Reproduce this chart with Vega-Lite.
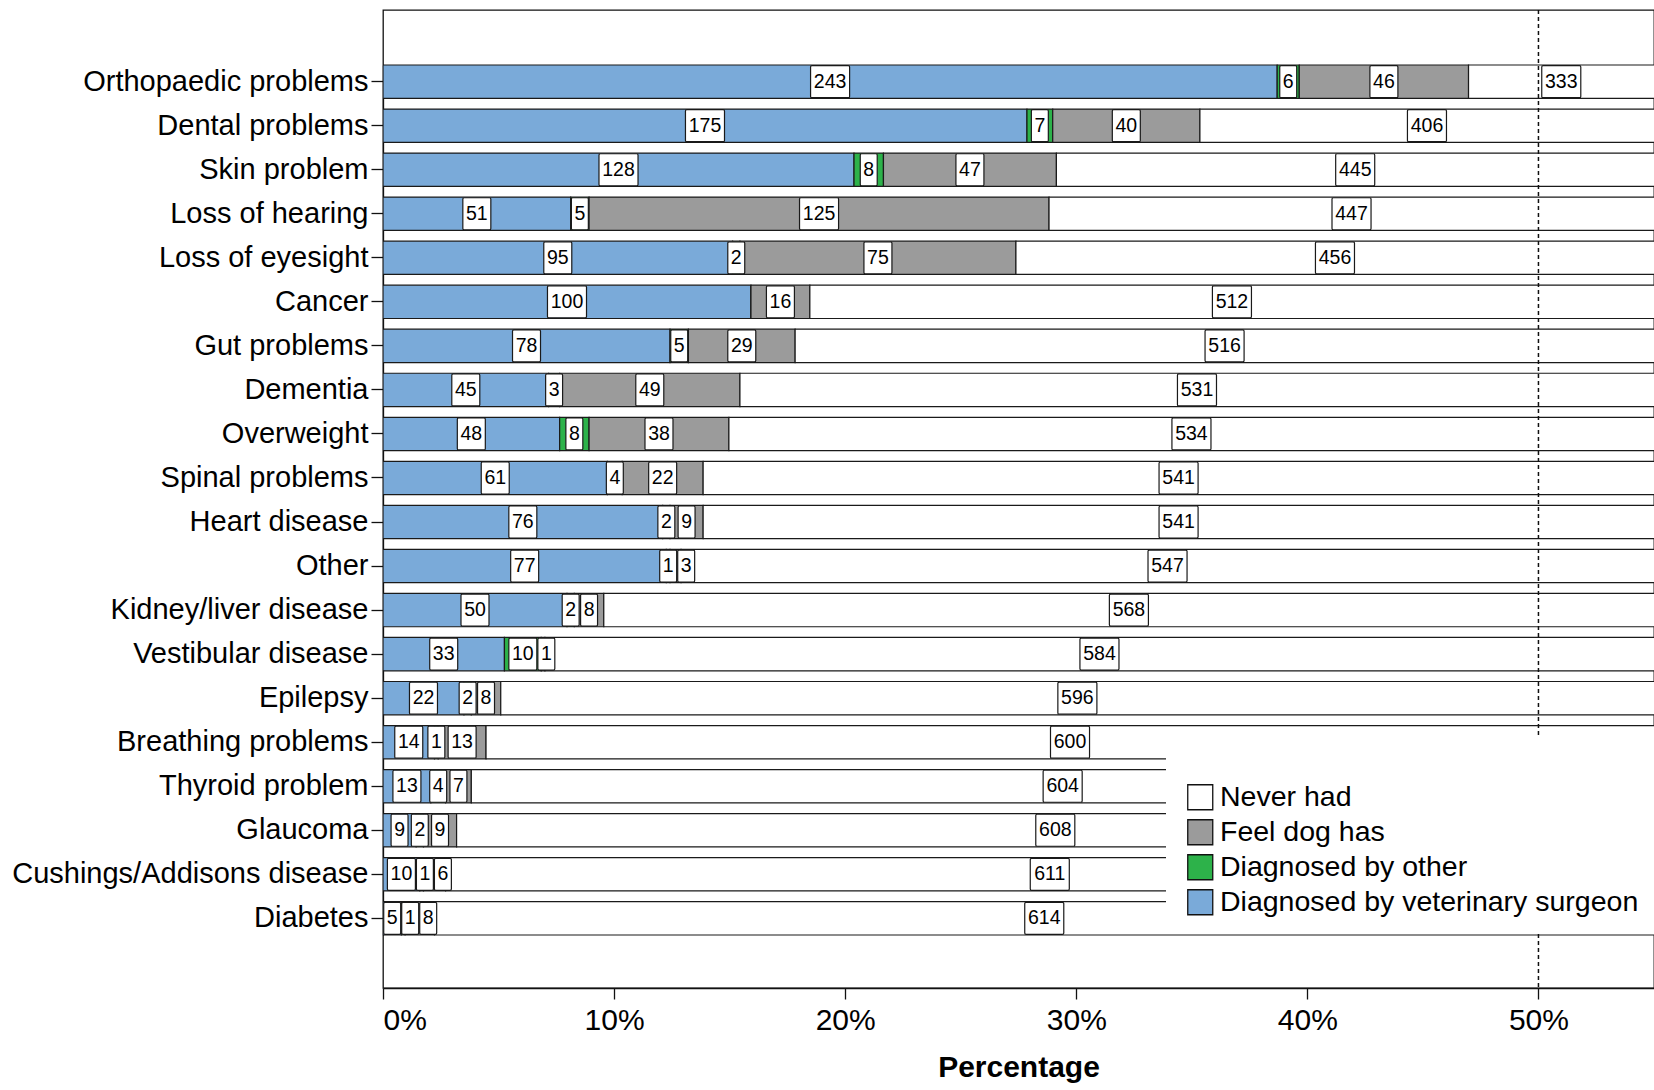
{
  "$schema": "https://vega.github.io/schema/vega-lite/v6.json",
  "width": 1271,
  "height": 978,
  "autosize": {"type": "none"},
  "padding": {"left": 383, "top": 10, "right": 0, "bottom": 102},
  "background": "white",
  "config": {
    "font": "Liberation Sans",
    "view": {"stroke": "#111111", "strokeWidth": 1.3},
    "axis": {"domainColor": "#111111", "tickColor": "#111111", "labelColor": "black", "titleColor": "black", "grid": false, "domainWidth": 1.3, "tickWidth": 1.3}
  },
  "data": {"values": [
    {"condition": "Orthopaedic problems", "status": "Diagnosed by veterinary surgeon", "ord": 1, "count": 243},
    {"condition": "Orthopaedic problems", "status": "Diagnosed by other", "ord": 2, "count": 6},
    {"condition": "Orthopaedic problems", "status": "Feel dog has", "ord": 3, "count": 46},
    {"condition": "Orthopaedic problems", "status": "Never had", "ord": 4, "count": 333},
    {"condition": "Dental problems", "status": "Diagnosed by veterinary surgeon", "ord": 1, "count": 175},
    {"condition": "Dental problems", "status": "Diagnosed by other", "ord": 2, "count": 7},
    {"condition": "Dental problems", "status": "Feel dog has", "ord": 3, "count": 40},
    {"condition": "Dental problems", "status": "Never had", "ord": 4, "count": 406},
    {"condition": "Skin problem", "status": "Diagnosed by veterinary surgeon", "ord": 1, "count": 128},
    {"condition": "Skin problem", "status": "Diagnosed by other", "ord": 2, "count": 8},
    {"condition": "Skin problem", "status": "Feel dog has", "ord": 3, "count": 47},
    {"condition": "Skin problem", "status": "Never had", "ord": 4, "count": 445},
    {"condition": "Loss of hearing", "status": "Diagnosed by veterinary surgeon", "ord": 1, "count": 51},
    {"condition": "Loss of hearing", "status": "Diagnosed by other", "ord": 2, "count": 5},
    {"condition": "Loss of hearing", "status": "Feel dog has", "ord": 3, "count": 125},
    {"condition": "Loss of hearing", "status": "Never had", "ord": 4, "count": 447},
    {"condition": "Loss of eyesight", "status": "Diagnosed by veterinary surgeon", "ord": 1, "count": 95},
    {"condition": "Loss of eyesight", "status": "Diagnosed by other", "ord": 2, "count": 2},
    {"condition": "Loss of eyesight", "status": "Feel dog has", "ord": 3, "count": 75},
    {"condition": "Loss of eyesight", "status": "Never had", "ord": 4, "count": 456},
    {"condition": "Cancer", "status": "Diagnosed by veterinary surgeon", "ord": 1, "count": 100},
    {"condition": "Cancer", "status": "Diagnosed by other", "ord": 2, "count": 0},
    {"condition": "Cancer", "status": "Feel dog has", "ord": 3, "count": 16},
    {"condition": "Cancer", "status": "Never had", "ord": 4, "count": 512},
    {"condition": "Gut problems", "status": "Diagnosed by veterinary surgeon", "ord": 1, "count": 78},
    {"condition": "Gut problems", "status": "Diagnosed by other", "ord": 2, "count": 5},
    {"condition": "Gut problems", "status": "Feel dog has", "ord": 3, "count": 29},
    {"condition": "Gut problems", "status": "Never had", "ord": 4, "count": 516},
    {"condition": "Dementia", "status": "Diagnosed by veterinary surgeon", "ord": 1, "count": 45},
    {"condition": "Dementia", "status": "Diagnosed by other", "ord": 2, "count": 3},
    {"condition": "Dementia", "status": "Feel dog has", "ord": 3, "count": 49},
    {"condition": "Dementia", "status": "Never had", "ord": 4, "count": 531},
    {"condition": "Overweight", "status": "Diagnosed by veterinary surgeon", "ord": 1, "count": 48},
    {"condition": "Overweight", "status": "Diagnosed by other", "ord": 2, "count": 8},
    {"condition": "Overweight", "status": "Feel dog has", "ord": 3, "count": 38},
    {"condition": "Overweight", "status": "Never had", "ord": 4, "count": 534},
    {"condition": "Spinal problems", "status": "Diagnosed by veterinary surgeon", "ord": 1, "count": 61},
    {"condition": "Spinal problems", "status": "Diagnosed by other", "ord": 2, "count": 4},
    {"condition": "Spinal problems", "status": "Feel dog has", "ord": 3, "count": 22},
    {"condition": "Spinal problems", "status": "Never had", "ord": 4, "count": 541},
    {"condition": "Heart disease", "status": "Diagnosed by veterinary surgeon", "ord": 1, "count": 76},
    {"condition": "Heart disease", "status": "Diagnosed by other", "ord": 2, "count": 2},
    {"condition": "Heart disease", "status": "Feel dog has", "ord": 3, "count": 9},
    {"condition": "Heart disease", "status": "Never had", "ord": 4, "count": 541},
    {"condition": "Other", "status": "Diagnosed by veterinary surgeon", "ord": 1, "count": 77},
    {"condition": "Other", "status": "Diagnosed by other", "ord": 2, "count": 1},
    {"condition": "Other", "status": "Feel dog has", "ord": 3, "count": 3},
    {"condition": "Other", "status": "Never had", "ord": 4, "count": 547},
    {"condition": "Kidney/liver disease", "status": "Diagnosed by veterinary surgeon", "ord": 1, "count": 50},
    {"condition": "Kidney/liver disease", "status": "Diagnosed by other", "ord": 2, "count": 2},
    {"condition": "Kidney/liver disease", "status": "Feel dog has", "ord": 3, "count": 8},
    {"condition": "Kidney/liver disease", "status": "Never had", "ord": 4, "count": 568},
    {"condition": "Vestibular disease", "status": "Diagnosed by veterinary surgeon", "ord": 1, "count": 33},
    {"condition": "Vestibular disease", "status": "Diagnosed by other", "ord": 2, "count": 10},
    {"condition": "Vestibular disease", "status": "Feel dog has", "ord": 3, "count": 1},
    {"condition": "Vestibular disease", "status": "Never had", "ord": 4, "count": 584},
    {"condition": "Epilepsy", "status": "Diagnosed by veterinary surgeon", "ord": 1, "count": 22},
    {"condition": "Epilepsy", "status": "Diagnosed by other", "ord": 2, "count": 2},
    {"condition": "Epilepsy", "status": "Feel dog has", "ord": 3, "count": 8},
    {"condition": "Epilepsy", "status": "Never had", "ord": 4, "count": 596},
    {"condition": "Breathing problems", "status": "Diagnosed by veterinary surgeon", "ord": 1, "count": 14},
    {"condition": "Breathing problems", "status": "Diagnosed by other", "ord": 2, "count": 1},
    {"condition": "Breathing problems", "status": "Feel dog has", "ord": 3, "count": 13},
    {"condition": "Breathing problems", "status": "Never had", "ord": 4, "count": 600},
    {"condition": "Thyroid problem", "status": "Diagnosed by veterinary surgeon", "ord": 1, "count": 13},
    {"condition": "Thyroid problem", "status": "Diagnosed by other", "ord": 2, "count": 4},
    {"condition": "Thyroid problem", "status": "Feel dog has", "ord": 3, "count": 7},
    {"condition": "Thyroid problem", "status": "Never had", "ord": 4, "count": 604},
    {"condition": "Glaucoma", "status": "Diagnosed by veterinary surgeon", "ord": 1, "count": 9},
    {"condition": "Glaucoma", "status": "Diagnosed by other", "ord": 2, "count": 2},
    {"condition": "Glaucoma", "status": "Feel dog has", "ord": 3, "count": 9},
    {"condition": "Glaucoma", "status": "Never had", "ord": 4, "count": 608},
    {"condition": "Cushings/Addisons disease", "status": "Diagnosed by veterinary surgeon", "ord": 1, "count": 10},
    {"condition": "Cushings/Addisons disease", "status": "Diagnosed by other", "ord": 2, "count": 1},
    {"condition": "Cushings/Addisons disease", "status": "Feel dog has", "ord": 3, "count": 6},
    {"condition": "Cushings/Addisons disease", "status": "Never had", "ord": 4, "count": 611},
    {"condition": "Diabetes", "status": "Diagnosed by veterinary surgeon", "ord": 1, "count": 5},
    {"condition": "Diabetes", "status": "Diagnosed by other", "ord": 2, "count": 1},
    {"condition": "Diabetes", "status": "Feel dog has", "ord": 3, "count": 8},
    {"condition": "Diabetes", "status": "Never had", "ord": 4, "count": 614}
  ]},
  "transform": [
    {"stack": "count", "groupby": ["condition"], "sort": [{"field": "ord", "order": "ascending"}], "offset": "normalize", "as": ["s0", "s1"]},
    {"calculate": "(datum.s0 + min(datum.s1, 0.55)) / 2", "as": "mid"},
    {"calculate": "length(toString(datum.count))", "as": "nd"}
  ],
  "layer": [
    {
      "mark": {"type": "bar", "clip": true, "stroke": "#1a1a1a", "strokeWidth": 1.2},
      "encoding": {
        "y": {"field": "condition", "type": "nominal", "title": null,
              "sort": ["Orthopaedic problems", "Dental problems", "Skin problem", "Loss of hearing", "Loss of eyesight", "Cancer", "Gut problems", "Dementia", "Overweight", "Spinal problems", "Heart disease", "Other", "Kidney/liver disease", "Vestibular disease", "Epilepsy", "Breathing problems", "Thyroid problem", "Glaucoma", "Cushings/Addisons disease", "Diabetes"],
              "scale": {"paddingInner": 0.243, "paddingOuter": 0, "range": [55, 925]},
              "axis": {"labelFontSize": 29, "labelPadding": 3, "tickSize": 12, "labelLimit": 600}},
        "x": {"field": "s0", "type": "quantitative", "title": "Percentage",
              "scale": {"domain": [0, 0.55], "nice": false, "zero": true},
              "axis": {"values": [0, 0.1, 0.2, 0.3, 0.4, 0.5], "format": ".0%", "labelFontSize": 30, "titleFontSize": 30, "titleFontWeight": "bold", "tickSize": 11, "labelPadding": 6, "titlePadding": 17}},
        "x2": {"field": "s1"},
        "color": {"field": "status", "type": "nominal",
                  "scale": {"domain": ["Never had", "Feel dog has", "Diagnosed by other", "Diagnosed by veterinary surgeon"], "range": ["#ffffff", "#9b9b9b", "#2db24a", "#7aaad9"]},
                  "legend": {"orient": "none", "legendX": 783, "legendY": 726,
                             "title": " ",
                             "titleFontSize": 24, "titlePadding": 8, "titleLimit": 3000,
                             "padding": 15, "fillColor": "white", "symbolType": "square", "symbolSize": 625,
                             "symbolStrokeColor": "#111111", "symbolStrokeWidth": 1.3, "symbolOffset": 5,
                             "labelFontSize": 28.5, "labelColor": "black", "labelLimit": 1000, "labelOffset": 5.5,
                             "rowPadding": 4.0, "zindex": 2}}
      }
    },
    {
      "transform": [{"filter": "datum.condition === 'Orthopaedic problems' && datum.ord === 1"}],
      "mark": {"type": "rule", "strokeDash": [4, 3], "color": "#111111", "strokeWidth": 1.5},
      "encoding": {"x": {"datum": 0.5}}
    },
    {
      "transform": [
        {"filter": "datum.count > 0"},
        {"calculate": "datum.nd == 1 ? 8.5 : (datum.nd == 2 ? 14 : 19.5)", "as": "hw"},
        {"window": [{"op": "lag", "field": "mid", "as": "pm"}, {"op": "lag", "field": "hw", "as": "ph"}], "groupby": ["condition"], "sort": [{"field": "ord", "order": "ascending"}]},
        {"calculate": "datum.pm == null ? datum.mid : max(datum.mid, datum.pm + (datum.ph + datum.hw + 1) * 0.55 / 1271)", "as": "p1"},
        {"window": [{"op": "lag", "field": "p1", "as": "pp"}], "groupby": ["condition"], "sort": [{"field": "ord", "order": "ascending"}]},
        {"calculate": "datum.pp == null ? datum.p1 : max(datum.p1, datum.pp + (datum.ph + datum.hw + 1) * 0.55 / 1271)", "as": "pos"}
      ],
      "layer": [
        {
          "mark": {"type": "point", "filled": true, "fill": "white", "stroke": "#1a1a1a", "strokeWidth": 1.2, "size": 1024, "opacity": 1},
          "encoding": {
            "y": {"field": "condition", "type": "nominal", "title": null,
                  "sort": ["Orthopaedic problems", "Dental problems", "Skin problem", "Loss of hearing", "Loss of eyesight", "Cancer", "Gut problems", "Dementia", "Overweight", "Spinal problems", "Heart disease", "Other", "Kidney/liver disease", "Vestibular disease", "Epilepsy", "Breathing problems", "Thyroid problem", "Glaucoma", "Cushings/Addisons disease", "Diabetes"]},
            "x": {"field": "pos", "type": "quantitative", "title": "Percentage"},
            "shape": {"field": "nd", "type": "nominal", "legend": null,
                      "scale": {"domain": [1, 2, 3], "range": [
                        "M-0.45,-1H0.45Q0.53,-1 0.53,-0.92V0.92Q0.53,1 0.45,1H-0.45Q-0.53,1 -0.53,0.92V-0.92Q-0.53,-1 -0.45,-1Z",
                        "M-0.795,-1H0.795Q0.875,-1 0.875,-0.92V0.92Q0.875,1 0.795,1H-0.795Q-0.875,1 -0.875,0.92V-0.92Q-0.875,-1 -0.795,-1Z",
                        "M-1.14,-1H1.14Q1.22,-1 1.22,-0.92V0.92Q1.22,1 1.14,1H-1.14Q-1.22,1 -1.22,0.92V-0.92Q-1.22,-1 -1.14,-1Z"]}}
          }
        },
        {
          "mark": {"type": "text", "fontSize": 19.5, "color": "black", "align": "center", "baseline": "middle"},
          "encoding": {
            "y": {"field": "condition", "type": "nominal", "title": null,
                  "sort": ["Orthopaedic problems", "Dental problems", "Skin problem", "Loss of hearing", "Loss of eyesight", "Cancer", "Gut problems", "Dementia", "Overweight", "Spinal problems", "Heart disease", "Other", "Kidney/liver disease", "Vestibular disease", "Epilepsy", "Breathing problems", "Thyroid problem", "Glaucoma", "Cushings/Addisons disease", "Diabetes"]},
            "x": {"field": "pos", "type": "quantitative", "title": "Percentage"},
            "text": {"field": "count", "type": "quantitative"}
          }
        }
      ]
    }
  ]
}
